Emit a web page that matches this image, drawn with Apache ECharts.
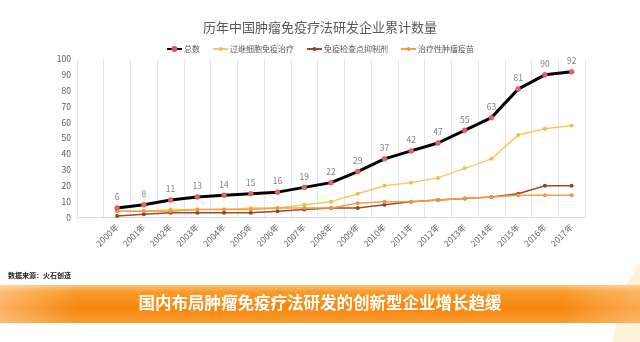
<!DOCTYPE html>
<html>
<head>
<meta charset="utf-8">
<script src="https://cdn.jsdelivr.net/npm/echarts@6/dist/echarts.min.js"></script>
<style>
  html, body { margin: 0; padding: 0; background: #fff; }
  #chart { width: 640px; height: 342px; }
</style>
</head>
<body>
<div id="chart"></div>
<script>
// Years on the category axis
const years = ['2000年','2001年','2002年','2003年','2004年','2005年','2006年','2007年','2008年',
  '2009年','2010年','2011年','2012年','2013年','2014年','2015年','2016年','2017年'];

// Cumulative counts of R&D companies per therapy type
const totalCount   = [6, 8, 11, 13, 14, 15, 16, 19, 22, 29, 37, 42, 47, 55, 63, 81, 90, 92];
const adoptiveCell = [4, 4, 5, 5, 5, 6, 6, 8, 10, 15, 20, 22, 25, 31, 37, 52, 56, 58];
const checkpoint   = [1, 2, 3, 3, 3, 3, 4, 5, 6, 6, 8, 10, 11, 12, 13, 15, 20, 20];
const vaccine      = [4, 4, 4, 5, 5, 5, 6, 6, 6, 9, 10, 10, 11, 12, 13, 14, 14, 14];

const yTicks = { min: 0, max: 100, interval: 10 };

// A blank leading slot keeps the first year one band in from the axis
const categories = [''].concat(years);
const pad = arr => [null].concat(arr);

const FONT = '"Noto Sans CJK SC", "Noto Sans", sans-serif';

const chart = echarts.init(document.getElementById('chart'), null, { renderer: 'canvas' });

function lineSeries(name, data, color, opts) {
  return Object.assign({
    name: name,
    type: 'line',
    data: pad(data),
    symbol: 'circle',
    symbolSize: 4,
    lineStyle: { color: color, width: 1.5 },
    itemStyle: { color: color },
    connectNulls: false,
    animation: false,
    z: 3
  }, opts || {});
}

chart.setOption({
  backgroundColor: '#ffffff',
  textStyle: { fontFamily: FONT },
  title: {
    text: '历年中国肿瘤免疫疗法研发企业累计数量',
    left: 'center',
    top: 16,
    textStyle: { fontSize: 13, fontWeight: 'normal', color: '#595959', fontFamily: FONT }
  },
  legend: {
    top: 40,
    left: 'center',
    itemWidth: 15,
    itemHeight: 5,
    itemGap: 12,
    textStyle: { fontSize: 8, color: '#595959', fontFamily: FONT, padding: [0, 0, 0, -3] },
    data: ['总数', '过继细胞免疫治疗', '免疫检查点抑制剂', '治疗性肿瘤疫苗']
  },
  grid: { left: 77, right: 55, top: 59, bottom: 124.5, containLabel: false },
  xAxis: {
    type: 'category',
    data: categories,
    boundaryGap: true,
    axisLine: { show: true, lineStyle: { color: '#d9d9d9', width: 1 } },
    axisTick: { show: false },
    splitLine: { show: true, lineStyle: { color: '#e6e6e6', width: 1 } },
    axisLabel: {
      rotate: 45,
      interval: 0,
      fontSize: 8.5,
      color: '#666666',
      margin: 8,
      fontFamily: FONT
    }
  },
  yAxis: {
    type: 'value',
    min: yTicks.min,
    max: yTicks.max,
    interval: yTicks.interval,
    axisLine: { show: false },
    axisTick: { show: false },
    splitLine: { show: false },
    axisLabel: { fontSize: 8.5, color: '#595959', margin: 6, fontFamily: FONT }
  },
  series: [
    lineSeries('总数', totalCount, '#000000', {
      symbolSize: 5,
      lineStyle: { color: '#000000', width: 3 },
      itemStyle: { color: '#e2665c', borderColor: '#d9534f', borderWidth: 0.5 },
      label: {
        show: true,
        position: 'top',
        distance: 4,
        fontSize: 8.5,
        color: '#808080',
        fontFamily: FONT
      },
      z: 5
    }),
    lineSeries('过继细胞免疫治疗', adoptiveCell, '#f6c95c', {
      itemStyle: { color: '#ecc04f' }
    }),
    lineSeries('免疫检查点抑制剂', checkpoint, '#9c4a2e', {
      itemStyle: { color: '#8f4329' }
    }),
    lineSeries('治疗性肿瘤疫苗', vaccine, '#f2a04c', {
      itemStyle: { color: '#ee9840' }
    })
  ],
  graphic: [
    // faint decorative star, lower right corner
    {
      type: 'polygon',
      silent: true,
      shape: { points: [[640, 262], [622, 292], [606, 300], [618, 318], [612, 342], [640, 342]] },
      style: { fill: 'rgba(252, 214, 150, 0.35)' },
      z: 0
    },
    {
      type: 'text',
      left: 8,
      top: 272,
      style: { text: '数据来源：火石创造', fontSize: 7, fill: '#222222', fontFamily: FONT, fontWeight: 'bold' }
    },
    {
      type: 'rect',
      shape: { x: 0, y: 285, width: 640, height: 38 },
      style: {
        fill: new echarts.graphic.LinearGradient(0, 0, 0, 1, [
          { offset: 0, color: '#fdc27a' },
          { offset: 0.18, color: '#fa9a2a' },
          { offset: 0.6, color: '#f7870f' },
          { offset: 1, color: '#f99a2e' }
        ])
      },
      z: 1
    },
    {
      type: 'rect',
      shape: { x: 0, y: 285, width: 640, height: 38 },
      style: {
        fill: new echarts.graphic.LinearGradient(0, 0, 1, 0, [
          { offset: 0, color: 'rgba(255,255,255,0.35)' },
          { offset: 0.12, color: 'rgba(255,255,255,0)' },
          { offset: 0.88, color: 'rgba(255,255,255,0)' },
          { offset: 1, color: 'rgba(255,230,190,0.35)' }
        ])
      },
      z: 2
    },
    {
      type: 'text',
      left: 'center',
      top: 294,
      z: 3,
      style: {
        text: '国内布局肿瘤免疫疗法研发的创新型企业增长趋缓',
        fontSize: 16.5,
        fontWeight: 'bold',
        fill: '#ffffff',
        fontFamily: FONT
      }
    }
  ]
});
</script>
</body>
</html>
